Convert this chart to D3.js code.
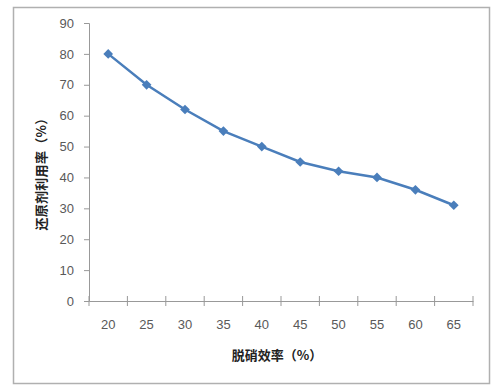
<!DOCTYPE html>
<html><head><meta charset="utf-8">
<script src="https://cdn.jsdelivr.net/npm/d3@7"></script>
<style>html,body{margin:0;padding:0;background:#fff;}</style>
</head><body>
<svg id="c" width="500" height="392"></svg>
<script>
const categories = ["20","25","30","35","40","45","50","55","60","65"];
const values = [80,70,62,55,50,45,42,40,36,31];
const yTicks = [0,10,20,30,40,50,60,70,80,90];
const xTitle = "脱硝效率（%）";
const yTitle = "还原剂利用率（%）";

const svg = d3.select("#c");
const m = {left:89, right:473, top:23, bottom:301};
svg.append("rect").attr("x",13.5).attr("y",7.5).attr("width",476).attr("height",376)
  .attr("fill","#fff").attr("stroke","#b0b0b0").attr("stroke-width",1.5);

const x = d3.scaleBand().domain(categories).range([m.left,m.right]);
const y = d3.scaleLinear().domain([0,90]).range([m.bottom,m.top]);

const font = "'Liberation Sans', Arial, 'Noto Sans CJK SC', sans-serif";

const yAxis = svg.append("g").attr("transform",`translate(${m.left},0)`)
  .call(d3.axisLeft(y).tickValues(yTicks).tickSize(5).tickPadding(10));
const xAxis = svg.append("g").attr("transform",`translate(0,${m.bottom})`)
  .call(d3.axisBottom(x).tickSize(0).tickPadding(19));
const bounds = categories.map(c=>x(c)).concat([x(categories[categories.length-1])+x.bandwidth()]);
xAxis.selectAll(".bt").data(bounds).enter().append("line")
  .attr("x1",d=>d).attr("x2",d=>d).attr("y1",-5).attr("y2",5)
  .attr("stroke","#999");
[yAxis,xAxis].forEach(a=>{
  a.selectAll("path").attr("stroke","#999");
  a.selectAll("line").attr("stroke","#999");
  a.selectAll("text").attr("fill","#595959").style("font-family",font).style("font-size","13px");
});
yAxis.selectAll(".tick line").attr("x1",-5).attr("x2",0);

const line = d3.line().x((d,i)=>x(categories[i])+x.bandwidth()/2).y(d=>y(d));
svg.append("path").datum(values).attr("d",line).attr("fill","none")
  .attr("stroke","#4a7ebb").attr("stroke-width",2.5);
svg.selectAll(".pt").data(values).enter().append("path")
  .attr("d",d3.symbol(d3.symbolDiamond2,60))
  .attr("transform",(d,i)=>`translate(${x(categories[i])+x.bandwidth()/2},${y(d)})`)
  .attr("fill","#4a7ebb");

svg.append("text").attr("x",277).attr("y",360).attr("text-anchor","middle")
  .style("font-family","'Noto Sans CJK SC', sans-serif").style("font-size","13px").style("font-weight","bold")
  .attr("fill","#222").text(xTitle);
svg.append("text").attr("transform","translate(46,171) rotate(-90)").attr("text-anchor","middle")
  .style("font-family","'Noto Sans CJK SC', sans-serif").style("font-size","13px").style("font-weight","bold")
  .style("letter-spacing","0.3px")
  .attr("fill","#222").text(yTitle);
</script>
</body></html>
